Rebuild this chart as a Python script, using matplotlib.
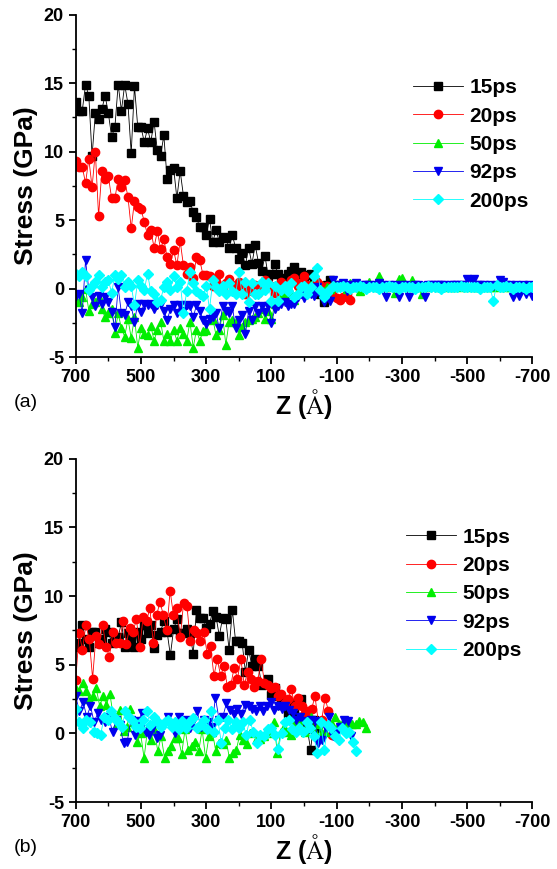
import matplotlib
matplotlib.use("Agg")
import matplotlib.pyplot as plt
import numpy as np

plt.rcParams['font.family'] = ['Liberation Sans', 'DejaVu Sans']
plt.rcParams['axes.unicode_minus'] = False
plt.rcParams['mathtext.fontset'] = 'stix'

labels = ["15ps", "20ps", "50ps", "92ps", "200ps"]
colors = ["#000000", "#ff0000", "#00ee00", "#0000ee", "#00ffff"]
markers = ["s", "o", "^", "v", "D"]

# ---- panel (a): stress vs Z, values every ~10 A starting at Z = 700
a_15 = [13.6, 13.0, 13.0, 14.9, 14.1, 9.7, 12.8, 12.4, 13.1, 14.1,
        12.8, 11.1, 11.8, 14.9, 13.0, 14.9, 13.5, 9.9, 14.8, 11.8,
        11.8, 10.7, 11.7, 10.7, 12.2, 10.1, 9.7, 11.2, 8.0, 8.7,
        8.8, 6.6, 8.6, 6.8, 6.3, 6.4, 5.6, 5.2, 4.5, 4.5,
        3.9, 5.1, 3.4, 4.3, 3.4, 3.8, 3.7, 3.0, 3.9, 3.0,
        2.2, 2.6, 1.7, 3.0, 1.8, 3.2, 1.9, 1.3, 2.4, 0.9,
        1.1, 1.8, 1.1, 0.7, 0.8, 1.1, 1.3, 1.6, 1.1, 1.2,
        0.8, 1.0, 1.1, 0.6, 0.3, -0.4, -1.0, 0.3, 0.6, 0.1, 0.3]
a_20 = [9.3, 8.9, 8.9, 7.7, 9.5, 7.4, 10.0, 5.3, 8.6, 8.0,
        8.2, 6.6, 6.6, 8.0, 7.4, 7.9, 6.7, 4.4, 6.4, 6.0,
        5.8, 4.9, 3.9, 4.3, 3.0, 4.2, 2.9, 3.6, 2.3, 1.8,
        2.8, 1.7, 3.5, 1.7, 1.1, 1.6, 0.8, 2.3, 2.1, 1.0,
        1.0, 0.9, 0.2, 0.5, 1.1, -0.1, 0.4, 0.7, 0.3, 0.1,
        0.5, 0.2, -0.4, 0.0, -0.2, 0.3, -0.3, 0.1, 0.6, 0.4,
        0.2, -0.3, 0.1, 0.5, 0.3, -0.2, 0.6, 0.8, 0.2, 0.4,
        0.9, 0.3, 0.0, -0.2, 0.5, 0.3, -0.4, 0.2, -0.3, -0.5,
        -0.7, -0.8, -0.6, -0.4, -0.8]
a_50 = [-0.8, -1.0, -0.6, 0.0, -1.6, -1.1, -1.0, -0.6, -1.5, -2.1,
        -1.8, -1.5, -3.2, -1.8, -2.9, -3.5, -2.2, -3.6, -2.1, -4.3,
        -2.9, -3.3, -3.4, -2.7, -3.8, -3.0, -2.4, -3.8, -3.3, -3.8,
        -3.0, -3.8, -2.9, -3.3, -3.8, -2.4, -4.3, -3.0, -3.8, -3.1,
        -3.0, -2.3, -2.2, -3.4, -3.0, -1.9, -4.1, -2.4, -2.3, -2.4,
        -3.4, -2.8, -2.4, -2.3, -2.2, -2.1, -1.8, -1.5, -2.2, -1.6,
        -2.2, -1.1, -0.9, -0.6, -0.4, -0.1, -0.4, -0.8, -0.2, 0.0,
        0.2, -0.1, 0.3, 0.0, -0.1, 0.0, -0.2, 0.1, 0.0, 0.1, 0.2,
        0.2, 0.3, 0.0, 0.4, 0.1, 0.2, -0.2, 0.1, 0.3, 0.5,
        0.2, 0.1, 0.9, 0.2, 0.1, 0.3, 0.2, -0.3, 0.7, 0.8,
        0.2, 0.1, 0.6, 0.2, 0.1, -0.4, 0.2, 0.1, 0.3, 0.2,
        0.1, 0.2, 0.1, 0.2, 0.1, 0.1, 0.2, 0.1, 0.2, 0.1,
        0.2, 0.1, 0.1, 0.2, 0.1, 0.2, 0.1, 0.1, 0.2, 0.1,
        0.2, 0.1, 0.1, 0.2, 0.1, 0.1, 0.2, 0.1, 0.2, 0.1]
a_92 = [-0.5, -0.4, -1.8, 2.1, -0.1, -0.6, -1.3, -0.5, -1.1, -0.6,
        -1.0, -1.7, -2.8, 0.1, -1.8, -1.9, -1.0, -1.3, -2.4, -1.1,
        -1.7, -1.1, -1.2, -1.1, -1.5, -1.2, -1.1, -1.6, -2.3, -1.5,
        -1.2, -1.8, -1.2, -1.6, -1.2, -1.3, -2.1, -1.2, -1.6, -2.3,
        -2.6, -2.2, -2.1, -1.8, -2.9, -1.3, -1.6, -1.8, -1.3, -2.9,
        -2.3, -1.9, -3.3, -1.6, -2.3, -1.3, -1.8, -1.3, -1.7, -1.3,
        -2.5, -1.5, -1.3, -1.1, -1.0, -1.3, -1.1, -1.1, -0.6, -0.4,
        -0.7, -0.1, -0.4, -0.5, 0.1, -0.4, -1.0, -0.5, -0.9, 0.6, 0.1,
        0.3, 0.4, -0.2, 0.3, 0.3, 0.4, 0.2, 0.3, 0.3, 0.3,
        0.2, 0.3, 0.4, 0.3, -0.6, 0.3, 0.2, 0.3, -0.6, 0.3,
        0.3, -0.6, 0.2, 0.3, 0.3, 0.2, -0.6, 0.3, 0.3, 0.3,
        0.3, 0.3, 0.3, 0.2, 0.3, 0.3, 0.3, 0.3, 0.3, 0.7,
        0.6, 0.7, 0.3, 0.3, 0.3, 0.2, 0.3, 0.2, 0.3, 0.6,
        0.5, 0.3, 0.3, -0.6, 0.3, -0.5, 0.3, -0.4, 0.3, -0.5]
a_200 = [1.1, 0.9, 1.2, 0.9, -0.1, 0.2, 0.5, 1.0, 0.1, 0.5,
         0.6, -0.3, 1.0, 0.7, 1.0, 0.1, 0.5, 0.2, -1.2, 0.6,
         0.2, -0.1, 1.1, -0.2, -0.4, -1.0, -0.8, 0.1, 0.5, -0.1,
         0.9, 0.1, 0.5, -1.8, -0.2, 1.2, 0.4, -0.2, -0.4, -0.5,
         0.2, -1.5, 0.6, 0.1, -0.2, 0.2, -0.4, 0.4, -0.2, -0.4,
         1.2, -0.4, 0.5, -1.0, 0.4, -0.4, -0.4, 0.5, -0.1, 0.4,
         -0.9, 0.2, -0.9, -0.1, 0.2, -0.2, 0.4, -0.6, -0.4, 0.1,
         0.2, -0.4, 0.1, 0.9, 1.5, -0.1, -0.6, -0.3, 0.0, 0.2, 0.1,
         0.1, 0.2, 0.1, 0.0, 0.1, 0.1, 0.2, 0.1, 0.0, 0.1,
         0.1, 0.1, 0.0, 0.1, 0.1, 0.2, 0.1, 0.1, 0.0, 0.1,
         0.1, 0.1, 0.1, 0.0, 0.1, 0.1, 0.1, 0.2, 0.1, 0.1,
         0.1, 0.0, 0.1, 0.1, 0.1, 0.1, 0.1, 0.2, 0.1, 0.1,
         0.1, 0.1, 0.1, 0.0, 0.1, 0.1, 0.1, -0.9, 0.3, 0.1,
         0.1, 0.2, 0.1, 0.0, 0.1, 0.1, 0.1, 0.0, 0.1, 0.1]
# last Z of each series in panel (a)
a_zend = [-100, -140, -700, -700, -700]

# ---- panel (b)
b_15 = [6.3, 6.6, 7.9, 6.9, 6.3, 7.4, 7.4, 6.6, 6.9, 7.6,
        7.4, 6.6, 6.9, 7.0, 8.1, 6.3, 7.3, 6.9, 6.3, 7.4,
        6.9, 7.9, 7.3, 7.9, 6.2, 7.2, 7.4, 8.2, 7.4, 5.7,
        7.6, 8.3, 7.3, 7.3, 7.6, 7.3, 5.8, 9.0, 8.4, 8.4,
        7.7, 8.0, 8.9, 8.5, 7.1, 8.4, 8.3, 6.1, 9.0, 6.7,
        6.7, 6.6, 4.5, 6.1, 4.9, 5.4, 4.9, 3.5, 3.6, 4.0,
        2.8, 3.3, 2.7, 2.1, 2.4, 1.5, 2.2, 1.5, 1.2, 2.5,
        1.0, 0.3, -1.2, 1.0, 0.4]
b_20 = [3.9, 7.3, 6.1, 7.9, 6.9, 4.0, 7.1, 6.5, 7.9, 6.3,
        5.6, 7.4, 6.6, 6.6, 8.2, 6.5, 7.7, 7.4, 8.3, 6.3,
        8.5, 8.2, 9.1, 6.6, 8.6, 9.6, 8.6, 7.5, 10.4, 8.6,
        9.1, 7.0, 9.5, 9.3, 6.7, 7.5, 7.3, 6.7, 7.4, 5.8,
        6.4, 4.2, 5.4, 4.2, 4.9, 3.4, 3.5, 4.8, 4.0, 5.4,
        3.5, 4.5, 4.0, 3.4, 3.8, 5.4, 3.7, 3.5, 3.3, 3.4,
        2.7, 2.9, 2.2, 2.5, 3.2, 2.0, 2.6, 2.0, 1.5, 1.6,
        1.8, 2.7, 0.8, 1.0, 2.6, 1.6, -0.1]
b_50 = [3.2, 3.1, 3.7, 3.1, 2.5, 2.7, 3.3, 2.0, 2.7, 2.1,
        2.9, 1.2, 0.7, 1.7, 0.2, 0.5, 1.8, 0.8, -0.6, 0.0,
        -1.8, 0.3, -0.5, 0.3, -1.3, -0.2, -1.8, -1.3, -0.9, -0.3,
        -0.3, -1.5, 0.3, -1.2, -0.9, -0.6, -1.3, 0.3, -1.8, -0.2,
        0.1, -1.3, -0.7, -0.8, -0.5, -1.8, -1.4, -1.2, -0.1, -0.5,
        -0.8, 0.0, 0.1, -0.3, -0.4, -0.2, 0.1, 0.0, 0.8, -1.4,
        0.1, 0.5, 0.1, -0.1, 0.7, 0.3, 1.0, 0.1, 0.7, 1.2,
        0.1, 0.7, 0.0, 0.1, 0.6, 0.7, 1.2, 0.7, 0.7, 0.7,
        0.8, 0.7, 0.7, 0.9, 0.8, 0.4]
b_92 = [2.7, 1.6, 2.3, 1.2, 2.0, 0.8, 1.5, 1.0, 0.8, 1.2,
        0.1, 1.0, 0.6, -0.7, -0.6, 1.0, -0.1, 0.9, 1.5, 0.1,
        -0.1, 0.5, -0.3, -0.1, 0.6, 1.2, 0.6, 0.0, 1.2, 0.5,
        1.0, 0.4, 0.9, 1.6, 0.5, 1.0, 0.8, 0.5, 2.6, 1.0,
        1.2, 2.2, 1.7, 1.4, 1.8, 1.4, 2.1, 2.0, 1.8, 1.6,
        2.0, 1.6, 2.0, 2.3, 1.7, 2.0, 1.8, 2.0, 1.7, 1.5,
        1.0, 1.2, 0.9, 0.8, 1.0, 0.9, -0.7, -0.5, 0.4, 1.2,
        -0.2, 0.1, 0.5, 1.0, 0.9, -0.2]
b_200 = [1.8, 0.8, 0.4, 1.0, 0.8, 0.1, 0.0, -0.1, 1.2, 1.0,
         1.6, 1.1, 0.8, 0.5, 1.6, 1.2, 0.9, 0.5, 0.4, 1.0,
         1.6, 0.6, 1.2, 0.9, 0.5, 0.8, 1.0, 0.5, 0.8, 0.3,
         0.9, 0.4, 0.8, 1.1, 0.4, 0.6, 1.0, 0.3, 1.6, 0.1,
         1.0, -0.7, 0.4, 1.0, 0.3, 0.8, 0.4, 0.8, -0.1, 1.0,
         0.1, -0.7, -0.1, -0.2, 0.3, 0.4, -0.1, -1.1, 0.0, 0.8,
         1.0, 0.3, 0.1, 0.4, 0.1, 0.8, 0.4, -0.2, -1.4, 0.8,
         -1.2, 0.6, 0.4, -0.2, -0.5, 0.4, 0.0, 0.1, -0.6, -1.3]
b_zend = [-40, -85, -190, -145, -160]

xticks = [700, 500, 300, 100, -100, -300, -500, -700]
yticks = [-5, 0, 5, 10, 15, 20]


def panel(ax, series, zend, legend_pos, tag):
    for vals, ze, lab, c, m in zip(series, zend, labels, colors, markers):
        z = np.linspace(700, ze, len(vals))
        ms = 5.0 if m == "D" else 6.0
        ax.plot(z, vals, color=c, lw=0.6, marker=m, ms=ms, mec=c, mfc=c, label=lab)
    ax.set_xlim(700, -700)
    ax.set_ylim(-5, 20)
    ax.set_xticks(xticks)
    ax.set_xticks([600, 400, 200, 0, -200, -400, -600], minor=True)
    ax.set_yticks(yticks)
    ax.set_yticks([-2.5, 2.5, 7.5, 12.5, 17.5], minor=True)
    for s in ["top", "right"]:
        ax.spines[s].set_visible(False)
    for s in ["left", "bottom"]:
        ax.spines[s].set_linewidth(1.3)
    ax.tick_params(which="major", direction="out", length=5, width=1.3, labelsize=13)
    ax.tick_params(which="minor", direction="out", length=3, width=1.0)
    for t in ax.get_xticklabels() + ax.get_yticklabels():
        t.set_fontweight("bold")
    ax.set_ylabel("Stress (GPa)", fontsize=19, fontweight="bold", labelpad=4)
    ax.set_xlabel(r"Z ($\mathrm{\AA}$)", fontsize=18, fontweight="bold", labelpad=1)
    ax.legend(loc="upper left", bbox_to_anchor=legend_pos, frameon=False,
              prop={"weight": "bold", "size": 15}, handlelength=2.4,
              handletextpad=0.3, labelspacing=0.45, borderpad=0, numpoints=1)
    ax.text(-0.135, -0.145, tag, transform=ax.transAxes, fontsize=14)


fig = plt.figure(figsize=(5.57, 8.69), dpi=100)
ax1 = fig.add_axes([0.136, 0.589, 0.820, 0.394])
ax2 = fig.add_axes([0.136, 0.077, 0.820, 0.395])

panel(ax1, [a_15, a_20, a_50, a_92, a_200], a_zend, (0.716, 0.845), "(a)")
panel(ax2, [b_15, b_20, b_50, b_92, b_200], b_zend, (0.70, 0.83), "(b)")

fig.savefig("out.png", dpi=100)
